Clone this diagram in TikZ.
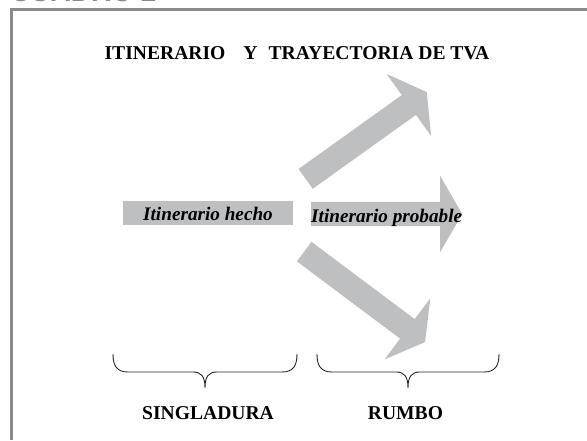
\documentclass[tikz,border=0pt]{standalone}
\usepackage{fontspec}
\setmainfont{Liberation Serif}
\newfontfamily\headfont{Liberation Sans}
\usetikzlibrary{shapes.arrows,positioning,calc}
\definecolor{arrowgray}{RGB}{190,191,193}
\definecolor{framegray}{RGB}{138,138,140}

% curly bracket opening downwards, between x = #1 and x = #2
\newcommand{\bracedown}[2]{%
  \coordinate (bl) at (#1,86);
  \coordinate (br) at (#2,86);
  \coordinate (bt) at ({(#1+#2)/2},52);
  \draw[bracket] (bl) .. controls +(0,-12) and +(-11,0) .. ($(bl)+(15,-18)$)
    -- ($(bt)+(-12,16)$) .. controls +(8,0) and +(0,12) .. (bt)
    .. controls +(0,12) and +(-8,0) .. ($(bt)+(12,16)$)
    -- ($(br)+(-15,-18)$) .. controls +(11,0) and +(0,-12) .. (br);
}

\begin{document}
\begin{tikzpicture}[
    x=1pt, y=1pt,
    frame/.style={draw=framegray, line width=2.5pt},
    bigarrow/.style={single arrow, fill=arrowgray, draw=none, inner sep=0pt, inner ysep=12pt, minimum height=151pt, single arrow head extend=26pt, single arrow tip angle=120, anchor=tail},
    donebar/.style={rectangle, fill=arrowgray, minimum width=170pt, minimum height=24pt, inner sep=0pt, text height=16pt, text depth=0pt, font=\bfseries\itshape\fontsize{19.2}{19.2}\selectfont},
    italiclabel/.style={inner sep=0pt, font=\bfseries\itshape\fontsize{19.2}{19.2}\selectfont},
    caplabel/.style={inner sep=0pt, font=\bfseries\fontsize{19.6}{19.6}\selectfont},
    bracket/.style={line width=0.9pt, black!85}
]
\clip (0,0) rectangle (587,440);

% Heading and frame
\node[anchor=base west, inner sep=0pt, text=framegray, font=\headfont\bfseries\fontsize{28}{28}\selectfont] (cuadro) at (10,438) {CUADRO 2};
\draw[frame] (11.5,0) -- (11.5,430.5) -- (587,430.5);

% Title
\node[caplabel, anchor=base] (title) at (297,380) {ITINERARIO\hspace{18pt}Y\hspace{11pt}TRAYECTORIA DE TVA};

% Arrows
\node[bigarrow, rotate=35.6, minimum height=149pt] (upper) at (305.5,261) {};
\node[bigarrow] (middle) at (311,226) {};
\node[bigarrow, rotate=-36.8] (lower) at (304,188.5) {};

% Route done and probable route
\node[donebar] (hecho) at (208,227) {Itinerario hecho};
\node[italiclabel, anchor=base west] (probable) at (311,218) {Itinerario probable};

% Braces
\bracedown{113}{297}
\bracedown{317}{499}

% Labels
\node[caplabel, anchor=base] (singladura) at (208,21) {SINGLADURA};
\node[caplabel, anchor=base] (rumbo) at (405.5,21) {RUMBO};

\end{tikzpicture}
\end{document}
